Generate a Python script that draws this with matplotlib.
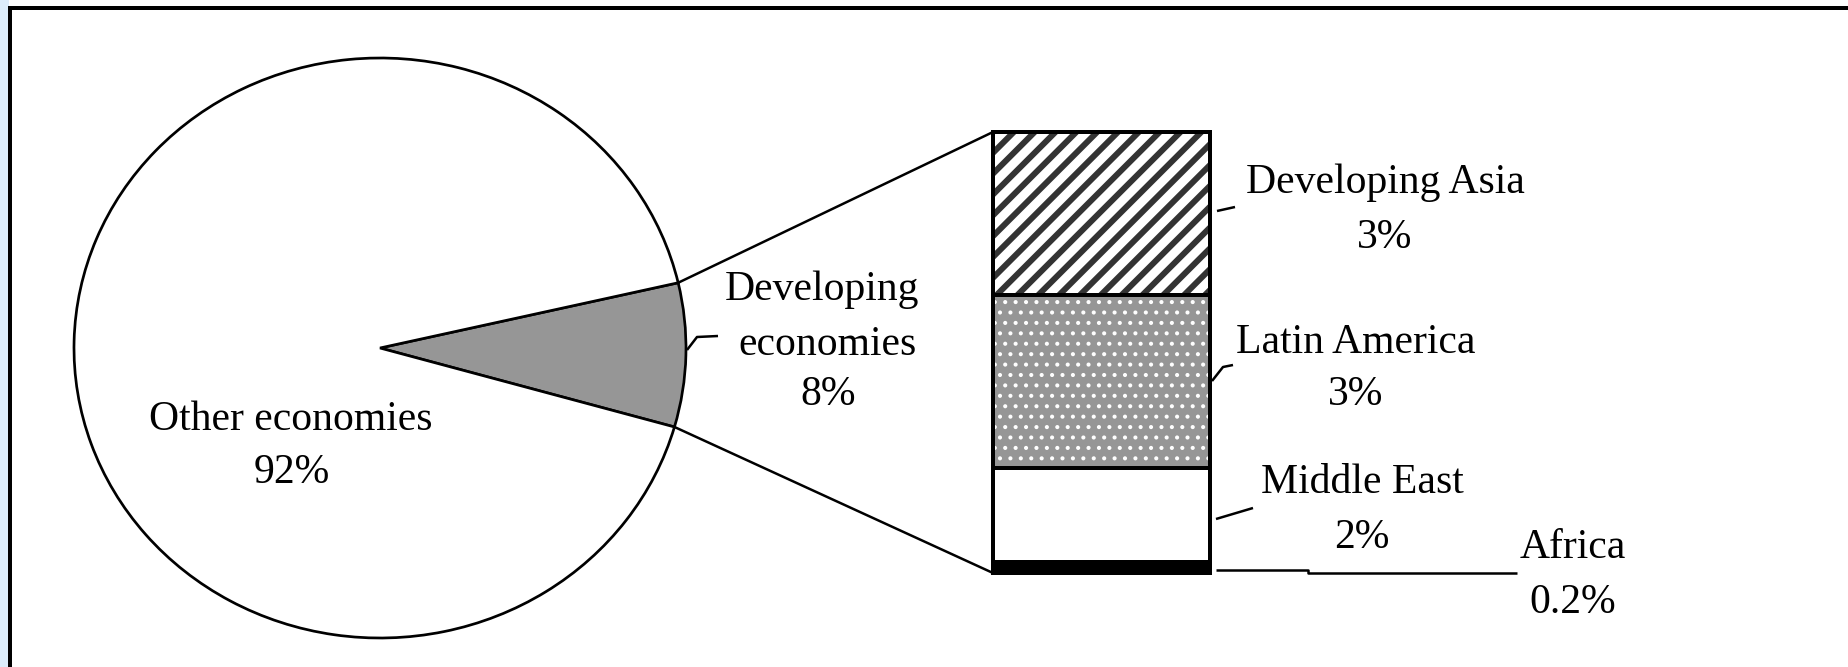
import numpy as np
import matplotlib
matplotlib.use("Agg")
import matplotlib.pyplot as plt
from matplotlib.patches import ConnectionPatch, Rectangle

# data
pie_labels = ["Developing\neconomies", "Other economies"]
pie_values = [8, 92]
pie_pct = ["8%", "92%"]

segments = ["Africa", "Middle East", "Latin America", "Developing Asia"]   # bottom -> top
shares = [0.2, 1.7, 3.15, 2.95]
share_pct = ["0.2%", "2%", "3%", "3%"]

W, H, DPI = 1848, 667, 125
plt.rcParams['font.family'] = ['Liberation Serif', 'DejaVu Serif']


def pt(px):
    return px * 72.0 / DPI


fig = plt.figure(figsize=(W / DPI, H / DPI), dpi=DPI)
fig.patch.set_facecolor('white')

# background axes in pixel units (window frame)
bg = fig.add_axes([0, 0, 1, 1])
bg.set_xlim(0, W)
bg.set_ylim(H, 0)
bg.axis('off')
bg.add_patch(Rectangle((0, 0), 9, H, color='#dcedfb', lw=0))
bg.plot([10, 10], [7, H + 5], color='black', lw=pt(4), solid_capstyle='butt')
bg.plot([8, W + 5], [7.5, 7.5], color='black', lw=pt(4), solid_capstyle='butt')

# pie (slightly wider than tall, as in the original)
cx, cy, rx, ry = 380, 348, 306, 290
ax_pie = fig.add_axes([(cx - rx) / W, (H - cy - ry) / H, 2 * rx / W, 2 * ry / H])
wedges, _ = ax_pie.pie(pie_values, colors=['#969696', 'white'], startangle=-15.8,
                       wedgeprops=dict(edgecolor='black', linewidth=pt(2.7)))
ax_pie.set_aspect('auto')
ax_pie.set_xlim(-1, 1)
ax_pie.set_ylim(-1, 1)
for w in wedges:
    w.set_clip_on(False)

# stacked bar
ax_bar = fig.add_axes([993 / W, (H - 573) / H, 217 / W, 441 / H])
bottoms = np.concatenate([[0], np.cumsum(shares)[:-1]])
total = sum(shares)
faces = ['black', 'white', '#969696', 'white']
hatches = [None, None, '..', '//']
hatch_cols = ['black', 'white', 'white', '#333333']
hatch_lw = [1.0, 1.0, pt(2.0), pt(6.0)]
for i in range(len(shares)):
    with plt.rc_context({'hatch.linewidth': hatch_lw[i]}):
        r = ax_bar.bar(0, shares[i], bottom=bottoms[i], width=1, color=faces[i],
                       edgecolor=hatch_cols[i], linewidth=0, hatch=hatches[i])[0]
    if hasattr(r, 'set_hatch_linewidth'):
        r.set_hatch_linewidth(hatch_lw[i])
outl = ax_bar.bar([0] * len(shares), shares, bottom=bottoms, width=1, fill=False,
                  edgecolor='black', linewidth=pt(4))
for r in outl:
    r.set_clip_on(False)
ax_bar.set_xlim(-0.5, 0.5)
ax_bar.set_ylim(0, total)
ax_bar.axis('off')

# lines joining the slice to the bar
t1, t2 = np.deg2rad(wedges[0].theta1), np.deg2rad(wedges[0].theta2)
for ang, yb in [(t2, total), (t1, 0)]:
    con = ConnectionPatch(xyA=(np.cos(ang), np.sin(ang)), coordsA=ax_pie.transData,
                          xyB=(-0.5, yb), coordsB=ax_bar.transData,
                          color='black', linewidth=pt(2.5))
    fig.add_artist(con)

# overlay for labels and leader lines
fg = fig.add_axes([0, 0, 1, 1])
fg.patch.set_alpha(0)
fg.set_xlim(0, W)
fg.set_ylim(H, 0)
fg.axis('off')

fs = 24
txt = dict(fontsize=fs, ha='center', va='baseline', color='black')
lines_pie = pie_labels[0].split('\n') + [pie_pct[0]]
for s, x, y in zip(lines_pie, [822, 828, 828], [300, 355, 405]):
    fg.text(x, y, s, **txt)
fg.text(291, 430, pie_labels[1], **txt)
fg.text(292, 483, pie_pct[1], **txt)

seg_pos = {"Developing Asia": (1385, 193, 248),
           "Latin America": (1356, 353, 405),
           "Middle East": (1362, 493, 548),
           "Africa": (1573, 558, 613)}
for name, pct in zip(segments, share_pct):
    x, y1, y2 = seg_pos[name]
    fg.text(x, y1, name, **txt)
    fg.text(x, y2, pct, **txt)

leaders = [
    [(687, 350), (697, 337), (718, 336)],
    [(1217, 211), (1235, 207)],
    [(1212, 381), (1223, 367), (1233, 365)],
    [(1216, 519), (1253, 508)],
    [(1216, 570), (1308, 570), (1308, 573), (1517, 573)],
]
for pts in leaders:
    xs, ys = zip(*pts)
    fg.plot(xs, ys, color='black', lw=pt(2.5), solid_capstyle='butt')

fig.savefig('out.png', dpi=DPI)
